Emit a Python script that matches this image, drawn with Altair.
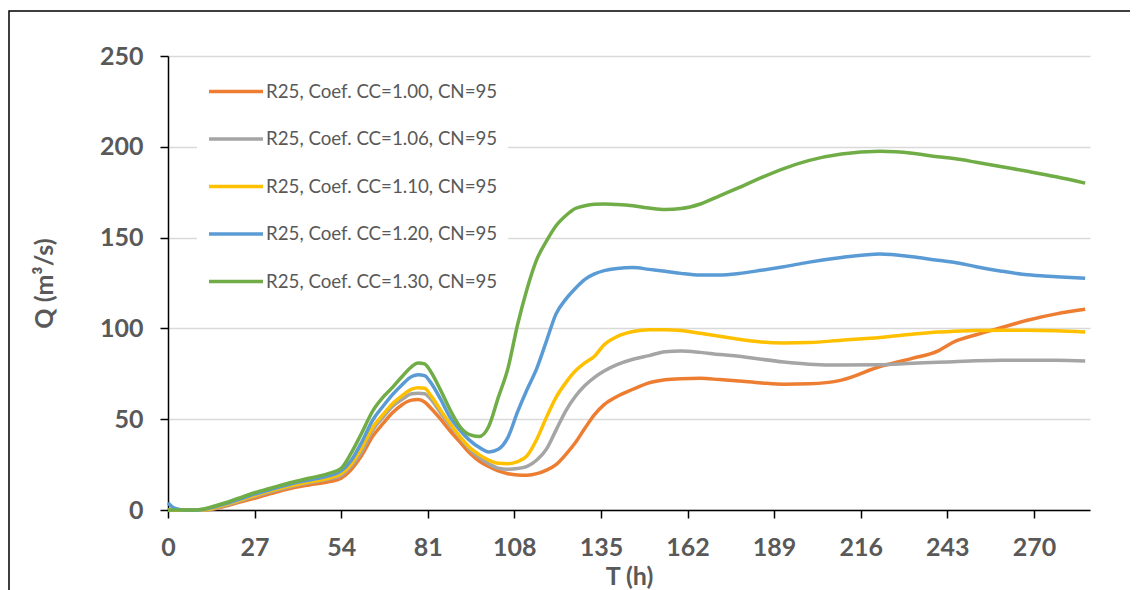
import altair as alt
import pandas as pd

# ---- data ----
T = [0, 2, 5, 8, 11, 14, 18, 22, 27, 32, 38, 44, 50, 54, 57, 60, 64, 67, 70, 73,
     76, 78, 80, 82, 85, 88, 91, 94, 97, 100, 103, 106, 109, 112, 115, 118, 121,
     124, 127, 130, 133, 136, 140, 145, 150, 155, 160, 166, 172, 178, 185, 192,
     200, 210, 222, 232, 240, 245, 252, 260, 268, 277, 286]

Q_CC100 = [0, 0, 0, 0, 0, 0.5, 2.2, 4.2, 6.5, 9, 11.8, 13.8, 15.5, 17.5, 22, 29, 41, 47.5, 53.5, 58,
           60.5, 60.8, 59.5, 56, 50, 43.5, 37.5, 31.5, 27, 24, 21.5, 20, 19.3, 19.2, 20, 22, 25,
           30.5, 37, 45, 52.5, 58, 62.5, 66.5, 70, 71.7, 72.3, 72.5, 71.8, 71, 70, 69.3,
           69.5, 71.5, 79, 83.5, 87.5, 92.5, 96.5, 100.5, 104.5, 108, 110.5]

Q_CC106 = [0, 0, 0, 0, 0, 0.7, 2.6, 4.8, 7.5, 10, 12.8, 15, 17, 19, 24, 31, 44.5, 51, 57, 61,
           64, 64.3, 64, 61, 53.5, 46.5, 40, 33.5, 29, 25.5, 23, 22.5, 22.8, 24, 27.5, 33.5, 44,
           54.5, 62.5, 68.5, 73, 76.5, 80, 83, 85, 87.2, 87.6, 86.8, 85.6, 84.7, 83, 81.5,
           80.3, 79.8, 80, 80.8, 81.3, 81.7, 82.2, 82.5, 82.5, 82.4, 82]

Q_CC110 = [0, 0, 0, 0, 0, 1, 3, 5.2, 8, 10.5, 13.3, 15.5, 17.5, 20, 25, 33, 46, 52.5, 58.5, 63,
           66.5, 67.3, 67, 63, 55, 47.5, 40.5, 34.5, 30.5, 27.5, 25.7, 25.5, 26.6, 30, 39, 51, 62,
           70, 76.5, 81, 84.7, 91, 95.5, 98.3, 99.3, 99.3, 98.8, 97.3, 95.7, 94, 92.5, 92,
           92.2, 93.5, 95, 96.8, 98, 98.4, 98.8, 99, 99, 98.7, 98]

Q_CC120 = [4, 1, 0, 0, 0.3, 1.5, 3.5, 5.8, 8.8, 11.3, 14.2, 16.5, 18.8, 21.5, 27, 36, 50, 57, 63.5, 69,
           73.5, 74.5, 74, 70, 61, 51, 44, 38.5, 34.5, 32, 33.5, 40, 54, 66.5, 78, 93, 108,
           116, 122, 127, 130, 131.8, 133, 133.5, 132.5, 131.5, 130.3, 129.4, 129.4, 130.2, 132, 134,
           136.5, 139, 141, 139.5, 137.5, 136.4, 134, 131.5, 129.5, 128.5, 127.6]

Q_CC130 = [0, 0, 0, 0, 0.5, 2, 4, 6.5, 9.5, 12, 15, 17.5, 20, 23, 31, 41, 55, 62, 67.5, 73.5,
           79, 81, 80.5, 76, 66, 55, 46, 41.5, 40.5, 46, 62, 78, 102, 122, 138, 148, 156.5,
           162, 166, 167.5, 168.3, 168.5, 168.2, 167.5, 166.3, 165.5, 166, 168.5, 173, 177.5, 183, 188,
           192.5, 196, 197.5, 196.5, 194.5, 193.5, 191.5, 189, 186.5, 183.5, 180]

SERIES = ["R25, Coef. CC=1.00, CN=95", "R25, Coef. CC=1.06, CN=95",
          "R25, Coef. CC=1.10, CN=95", "R25, Coef. CC=1.20, CN=95",
          "R25, Coef. CC=1.30, CN=95"]
COLORS = ["#ED7D31", "#A5A5A5", "#FFC000", "#5B9BD5", "#70AD47"]
X_TICKS = [0, 27, 54, 81, 108, 135, 162, 189, 216, 243, 270]
Y_TICKS = [0, 50, 100, 150, 200, 250]

rows = []
for name, qs in zip(SERIES, [Q_CC100, Q_CC106, Q_CC110, Q_CC120, Q_CC130]):
    for t, q in zip(T, qs):
        rows.append({"T": t, "Q": q, "Serie": name})
df = pd.DataFrame(rows)

FONT = "Lato"
GREY = "#595959"

lines = alt.Chart(df).mark_line(strokeWidth=3.5, interpolate="monotone").encode(
    x=alt.X("T:Q",
            scale=alt.Scale(domain=[0, 287.5], nice=False, zero=False),
            axis=alt.Axis(values=X_TICKS, title="T (h)", grid=False,
                          labelPadding=17, labelFlush=False, labelOverlap=False,
                          titleY=74, titleX=461, titleBaseline="alphabetic")),
    y=alt.Y("Q:Q",
            scale=alt.Scale(domain=[0, 250], nice=False),
            axis=alt.Axis(values=Y_TICKS, title="Q (m³/s)", grid=True,
                          gridColor="#D9D9D9", gridWidth=1.5, labelPadding=17,
                          titleX=-124, titleY=227, titleAngle=270,
                          titleBaseline="middle", titleAlign="center")),
    color=alt.Color("Serie:N",
                    scale=alt.Scale(domain=SERIES, range=COLORS),
                    legend=alt.Legend(title=None, orient="none", legendX=29, legendY=10,
                                      fillColor="white", padding=10,
                                      symbolType="M-1,0H3", symbolSize=729,
                                      symbolStrokeWidth=3.5, labelFont=FONT,
                                      labelFontSize=18.7, labelColor=GREY,
                                      labelOffset=28, rowPadding=21.5,
                                      labelLimit=400, direction="vertical")),
)

border = alt.Chart(alt.Data(values=[{}])).mark_rect(
    fillOpacity=0, stroke="black", strokeWidth=1.5
).encode(
    x=alt.value(-159), x2=alt.value(1000), y=alt.value(-45), y2=alt.value(600)
)

chart = alt.layer(border, lines).properties(
    width=922, height=454,
    autosize=alt.AutoSizeParams(type="none"),
    padding={"left": 160, "top": 48, "right": 40, "bottom": 80},
).configure_view(stroke=None).configure_axis(
    labelFont=FONT, labelFontWeight="bold", labelFontSize=25, labelColor=GREY,
    domainColor="black", domainWidth=1.5, tickColor="black", tickWidth=1.5,
    tickSize=8, titleFont=FONT, titleFontSize=25, titleFontWeight="bold",
    titleColor=GREY,
)

chart.save("out.html", embed_options={"renderer": "svg", "actions": False})
